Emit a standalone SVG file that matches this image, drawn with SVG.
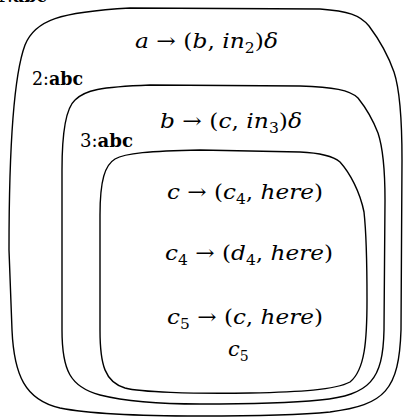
<svg xmlns="http://www.w3.org/2000/svg" width="405" height="418" viewBox="0 0 405 418">
<style>
.b{fill:none;stroke:#000;stroke-width:1.4;stroke-linejoin:round}
.m{font-family:"DejaVu Serif","Liberation Serif",serif;font-size:21px;fill:#000}
.i{font-style:italic}
.s{font-size:14px}
.l{font-family:"DejaVu Serif","Liberation Serif",serif;font-size:19px;fill:#000}
.bd{font-weight:bold}
</style>
<text class="l" x="-4" y="2" textLength="51" lengthAdjust="spacingAndGlyphs">1:<tspan class="bd">abc</tspan></text>
<g id="box1">
<path class="b" d="M 12,330 L 9,250 C 9,170 12,80 25,45 C 35,20 60,12 130,8 L 320,9 C 348,11 360,15 369,26 C 378,38 388,55 394,72 C 400,90 402,120 402,160 L 401,330 C 399,390 385,405 330,412 C 300,415 250,416 200,416 C 150,416 90,414 60,408 C 25,400 14,375 12,330 Z"/>
<text class="m" x="135" y="48" textLength="143" lengthAdjust="spacingAndGlyphs"><tspan class="i">a</tspan> → (<tspan class="i">b</tspan>, <tspan class="i">in</tspan><tspan class="s" dy="5">2</tspan><tspan dy="-5">)</tspan><tspan class="i">δ</tspan></text>
<text class="l" x="32" y="85" textLength="51" lengthAdjust="spacingAndGlyphs">2:<tspan class="bd">abc</tspan></text>
</g>
<g id="box2">
<path class="b" d="M 62,330 L 62,170 C 62,130 66,108 75,100 C 85,90 100,87 150,85 L 300,86 C 333,87 350,90 358,98 C 366,108 373,120 378,133 C 383,148 385,170 385,200 L 384,330 C 383,380 370,395 320,400 C 290,403 250,404 200,404 C 150,404 120,400 100,395 C 70,387 62,370 62,330 Z"/>
<text class="m" x="160" y="128" textLength="142" lengthAdjust="spacingAndGlyphs"><tspan class="i">b</tspan> → (<tspan class="i">c</tspan>, <tspan class="i">in</tspan><tspan class="s" dy="5">3</tspan><tspan dy="-5">)</tspan><tspan class="i">δ</tspan></text>
<text class="l" x="80" y="147" textLength="53" lengthAdjust="spacingAndGlyphs">3:<tspan class="bd">abc</tspan></text>
</g>
<g id="box3">
<path class="b" d="M 100,330 L 100,215 C 100,180 105,165 115,159 C 125,153 150,151 200,150 L 300,152 C 322,153 333,156 340,162 C 350,173 360,192 364,212 C 366,230 367,260 367,300 C 367,340 365,370 350,382 C 335,390 300,392 250,393 C 190,394 140,392 125,388 C 105,382 100,365 100,330 Z"/>
<text class="m" x="167" y="199" textLength="156" lengthAdjust="spacingAndGlyphs"><tspan class="i">c</tspan> → (<tspan class="i">c</tspan><tspan class="s" dy="5">4</tspan><tspan dy="-5">, </tspan><tspan class="i">here</tspan>)</text>
<text class="m" x="165" y="260" textLength="168" lengthAdjust="spacingAndGlyphs"><tspan class="i">c</tspan><tspan class="s" dy="5">4</tspan><tspan dy="-5"> → (</tspan><tspan class="i">d</tspan><tspan class="s" dy="5">4</tspan><tspan dy="-5">, </tspan><tspan class="i">here</tspan>)</text>
<text class="m" x="167" y="324" textLength="156" lengthAdjust="spacingAndGlyphs"><tspan class="i">c</tspan><tspan class="s" dy="5">5</tspan><tspan dy="-5"> → (</tspan><tspan class="i">c</tspan>, <tspan class="i">here</tspan>)</text>
<text class="m" x="228" y="356"><tspan class="i">c</tspan><tspan class="s" dy="5">5</tspan></text>
</g>
</svg>
